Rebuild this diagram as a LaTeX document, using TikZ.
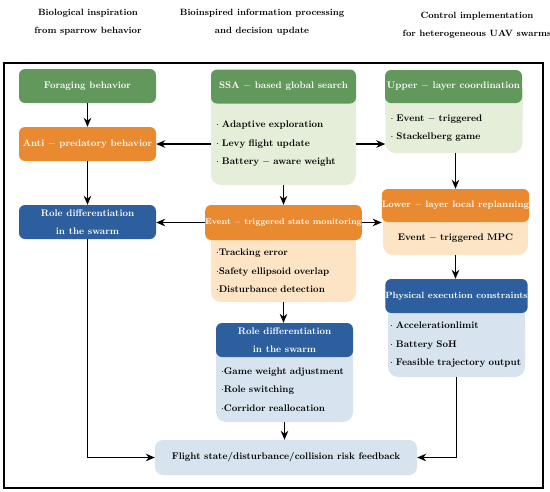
\documentclass[tikz,border=0pt]{standalone}
\usetikzlibrary{arrows.meta,backgrounds}

\definecolor{titlegreen}{RGB}{99,152,92}
\definecolor{titleorange}{RGB}{233,137,48}
\definecolor{titleblue}{RGB}{45,94,157}
\definecolor{listgreen}{RGB}{228,238,216}
\definecolor{listorange}{RGB}{252,228,196}
\definecolor{listblue}{RGB}{215,227,238}

\begin{document}
\begin{tikzpicture}[x=1pt, y=-1pt,
    txt/.style={font=\fontsize{9.6}{18.5}\selectfont\bfseries},
    colhead/.style={font=\fontsize{9.1}{18.5}\selectfont\bfseries, align=center},
    head/.style={txt, rounded corners=6pt, text=white, align=center, inner sep=0pt, minimum height=34pt},
    list/.style={txt, rounded corners=10pt, align=left, inner xsep=5pt, inner ysep=0pt},
    flow/.style={line width=1.3pt, -{Stealth[length=9pt, width=7.5pt]}}]

    \useasboundingbox (0,0) rectangle (550,491);
    \draw[line width=1.4pt] (4,63) rectangle (543,488);

    % column titles
    \node[colhead] (colbio)  at (88,22)  {Biological inspiration\\from sparrow behavior};
    \node[colhead] (colproc) at (262,22) {Bioinspired information processing\\and decision update};
    \node[colhead] (colctrl) at (477,25) {Control implementation\\for heterogeneous UAV swarms};

    % left column
    \node[head, fill=titlegreen,  minimum width=137pt] (forage)   at (87.5,86)  {Foraging behavior};
    \node[head, fill=titleorange, minimum width=137pt] (anti)     at (87.5,144) {Anti $-$ predatory behavior};
    \node[head, fill=titleblue,   minimum width=137pt] (roleleft) at (87.5,222) {Role differentiation\\in the swarm};

    % middle column
    \node[list, fill=listgreen, text width=135pt, minimum height=82pt] (ssalist) at (283.5,144)
        {$\cdot$ Adaptive exploration\\$\cdot$ Levy flight update\\$\cdot$ Battery $-$ aware weight};
    \begin{scope}[on background layer]
        \fill[listgreen] ([yshift=14pt]ssalist.north west) rectangle ([yshift=-12pt]ssalist.north east);
    \end{scope}
    \node[head, fill=titlegreen, minimum width=145pt] (ssa) at (283.5,86.5) {SSA $-$ based global search};

    \node[list, fill=listorange, text width=135pt, minimum height=62pt] (eventlist) at (283.5,271)
        {$\cdot$Tracking error\\$\cdot$Safety ellipsoid overlap\\$\cdot$Disturbance detection};
    \begin{scope}[on background layer]
        \fill[listorange] ([yshift=14pt]eventlist.north west) rectangle ([yshift=-12pt]eventlist.north east);
    \end{scope}
    \node[head, fill=titleorange, minimum width=145pt, minimum height=35pt, font=\fontsize{8.3}{10}\selectfont\bfseries] (event) at (283.5,222.5)
        {Event $-$ triggered state monitoring};

    \node[list, fill=listblue, text width=127pt, minimum height=65pt] (rolemidlist) at (284.5,389.5)
        {$\cdot$Game weight adjustment\\$\cdot$Role switching\\$\cdot$Corridor reallocation};
    \begin{scope}[on background layer]
        \fill[listblue] ([yshift=14pt]rolemidlist.north west) rectangle ([yshift=-12pt]rolemidlist.north east);
    \end{scope}
    \node[head, fill=titleblue, minimum width=137pt] (rolemid) at (284.5,340) {Role differentiation\\in the swarm};

    % right column
    \node[list, fill=listgreen, text width=127pt, minimum height=50pt] (upperlist) at (454,128)
        {$\cdot$ Event $-$ triggered\\$\cdot$ Stackelberg game};
    \begin{scope}[on background layer]
        \fill[listgreen] ([yshift=14pt]upperlist.north west) rectangle ([yshift=-12pt]upperlist.north east);
    \end{scope}
    \node[head, fill=titlegreen, minimum width=137pt, minimum height=33pt] (upper) at (453.5,86.5)
        {Upper $-$ layer coordination};

    \node[list, fill=listorange, text width=135pt, minimum height=33pt, align=center] (lowerlist) at (455.5,238.5)
        {Event $-$ triggered MPC};
    \begin{scope}[on background layer]
        \fill[listorange] ([yshift=14pt]lowerlist.north west) rectangle ([yshift=-12pt]lowerlist.north east);
    \end{scope}
    \node[head, fill=titleorange, minimum width=145pt, minimum height=33pt, font=\fontsize{9.3}{11}\selectfont\bfseries] (lower) at (455.5,205.5)
        {Lower $-$ layer local replanning};

    \node[list, fill=listblue, text width=133pt, inner xsep=2pt, minimum height=64pt] (physlist) at (456.5,345)
        {$\cdot$ Accelerationlimit\\$\cdot$ Battery SoH\\\mbox{$\cdot$ Feasible trajectory output}};
    \begin{scope}[on background layer]
        \fill[listblue] ([yshift=14pt]physlist.north west) rectangle ([yshift=-12pt]physlist.north east);
    \end{scope}
    \node[head, fill=titleblue, minimum width=137pt, font=\fontsize{9.1}{11}\selectfont\bfseries] (physical) at (456.5,296)
        {Physical execution constraints};

    % bottom
    \node[list, fill=listblue, minimum width=262pt, minimum height=35pt, rounded corners=8pt] (feedback) at (286,457.5)
        {Flight state/disturbance/collision risk feedback};

    % arrows
    \draw[flow] (forage) -- (anti);
    \draw[flow] (anti) -- (roleleft);
    \draw[flow] (ssalist.west) -- (anti.east);
    \draw[flow] (ssalist.east) -- (ssalist.east -| upperlist.west);
    \draw[flow] (ssalist.south) -- (event.north);
    \draw[flow] (event.west) -- (event.west -| roleleft.east);
    \draw[flow] (event.east) -- (event.east -| lower.west);
    \draw[flow] (upperlist.south -| lower.north) -- (lower.north);
    \draw[flow] (lowerlist.south) -- (lowerlist.south |- physical.north);
    \draw[flow] (eventlist.south) -- (eventlist.south |- rolemid.north);
    \draw[flow] (rolemidlist.south) -- (rolemidlist.south |- feedback.north);
    \draw[flow] (roleleft.south) |- (feedback.west);
    \draw[flow] (physlist.south) |- (feedback.east);
\end{tikzpicture}
\end{document}
